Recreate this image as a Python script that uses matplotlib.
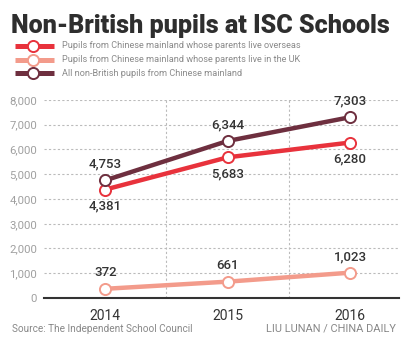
import matplotlib
matplotlib.use("Agg")
import matplotlib.pyplot as plt
from matplotlib.lines import Line2D

years = ["2014", "2015", "2016"]
overseas = [4381, 5683, 6280]
in_uk = [372, 661, 1023]
all_nonbritish = [4753, 6344, 7303]
yticks = [0, 1000, 2000, 3000, 4000, 5000, 6000, 7000, 8000]
ytick_labels = ["0", "1,000", "2,000", "3,000", "4,000", "5,000", "6,000", "7,000", "8,000"]

c_red = "#e8323c"
c_salmon = "#f39b8b"
c_maroon = "#6e2f3f"
grey = "#a0a0a0"
dark = "#333333"

plt.rcParams['font.family'] = ['Roboto', 'DejaVu Sans']

fig = plt.figure(figsize=(4.08, 3.40), dpi=100)
ax = fig.add_axes([0.108, 0.1235, 0.870, 0.5825])

x = list(range(len(years)))
series = [
    (overseas, c_red, "below"),
    (in_uk, c_salmon, "above"),
    (all_nonbritish, c_maroon, "above"),
]
for vals, col, pos in series:
    ax.plot(x, vals, color=col, lw=3.2, solid_capstyle='butt', zorder=3,
            marker='o', markersize=8, markerfacecolor='white',
            markeredgecolor=col, markeredgewidth=1.4)
    for xi, v in zip(x, vals):
        off = 11.5 if pos == "above" else -12
        ax.annotate(f"{v:,}", (xi, v), xytext=(0, off), textcoords='offset points',
                    ha='center', va='center', fontsize=9.5, fontweight='medium',
                    color=dark, annotation_clip=False, zorder=5)

ax.set_xlim(-0.5, 2.4)
ax.set_ylim(0, 8000)
ax.set_yticks(yticks)
ax.set_yticklabels(ytick_labels, color=grey, fontsize=8.2)
ax.set_xticks(x)
ax.set_xticklabels(years, color=dark, fontsize=10)
ax.tick_params(length=0, pad=5)
ax.tick_params(axis='x', pad=8)

for v in yticks[1:]:
    ax.axhline(v, color='#bbbbbb', lw=0.8, ls=(0, (2, 2)), zorder=1)
for b in [0.5, 1.5]:
    ax.axvline(b, color='#bbbbbb', lw=0.8, ls=(0, (2, 2)), zorder=1)

for s in ['top', 'right', 'left']:
    ax.spines[s].set_visible(False)
ax.spines['bottom'].set_color('#333333')
ax.spines['bottom'].set_linewidth(1.5)

fig.text(0.027, 0.924, "Non-British pupils at ISC Schools", fontsize=18.1,
         fontweight='black', color='#2e2e2e', ha='left', va='center')

legend_items = [
    (c_red, "Pupils from Chinese mainland whose parents live overseas", 46),
    (c_salmon, "Pupils from Chinese mainland whose parents live in the UK", 60),
    (c_maroon, "All non-British pupils from Chinese mainland", 73),
]
for col, label, ypix in legend_items:
    yf = 1 - ypix / 340
    fig.add_artist(Line2D([15 / 408, 54 / 408], [yf, yf], color=col, lw=3.6,
                          solid_capstyle='butt', transform=fig.transFigure))
    fig.add_artist(Line2D([33 / 408], [yf], marker='o', markersize=8,
                          markerfacecolor='white', markeredgecolor=col,
                          markeredgewidth=1.4, transform=fig.transFigure))
    fig.text(62 / 408, yf, label, fontsize=6.6, color='#8a8a8a', ha='left', va='center')

fig.text(12 / 408, 1 - 329 / 340, "Source: The Independent School Council",
         fontsize=7.2, color='#888888', ha='left', va='center')
fig.text(396 / 408, 1 - 329 / 340, "LIU LUNAN / CHINA DAILY",
         fontsize=7.9, color='#888888', ha='right', va='center')

fig.savefig("out.png", dpi=100)
